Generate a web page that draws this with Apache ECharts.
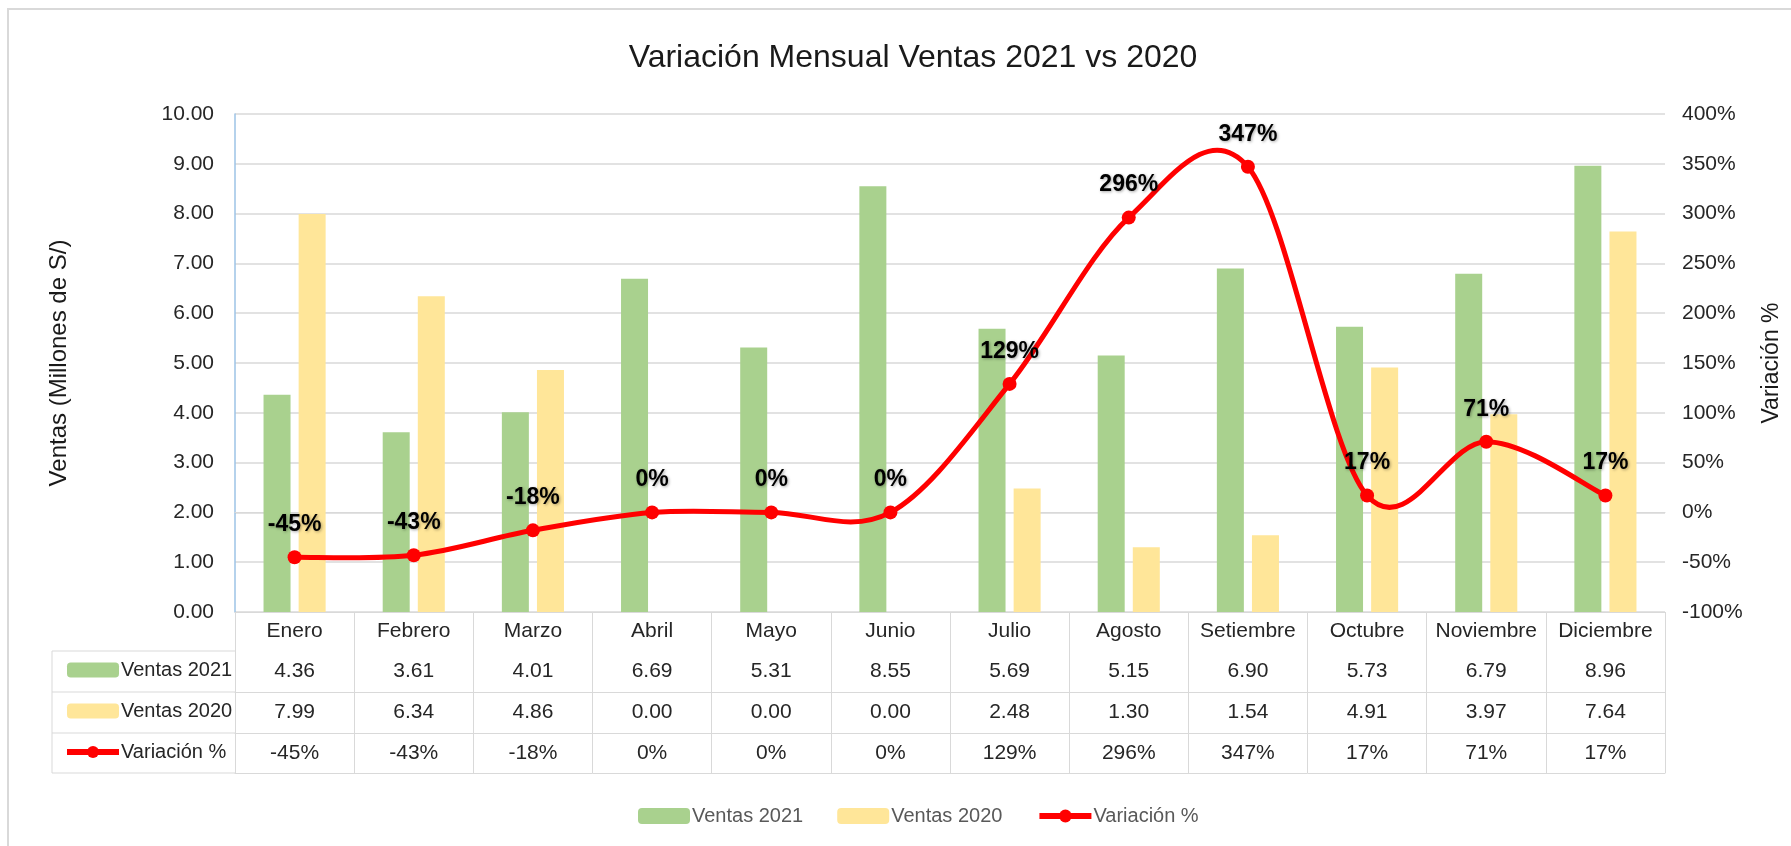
<!DOCTYPE html>
<html>
<head>
<meta charset="utf-8">
<script src="https://cdn.jsdelivr.net/npm/echarts@6/dist/echarts.min.js"></script>
<style>
  html, body { margin: 0; padding: 0; background: #fff; }
  #chart { width: 1791px; height: 846px; }
</style>
</head>
<body>
<div id="chart"></div>
<script>
// ---- Data ----
const categories = ['Enero','Febrero','Marzo','Abril','Mayo','Junio','Julio','Agosto','Setiembre','Octubre','Noviembre','Diciembre'];
const ventas2021 = [4.36,3.61,4.01,6.69,5.31,8.55,5.69,5.15,6.90,5.73,6.79,8.96];
const ventas2020 = [7.99,6.34,4.86,0.00,0.00,0.00,2.48,1.30,1.54,4.91,3.97,7.64];
const variacion = [-45,-43,-18,0,0,0,129,296,347,17,71,17];
const seriesNames = ['Ventas 2021','Ventas 2020','Variación %'];
const leftAxis = { min: 0, max: 10, interval: 1 };
const rightAxis = { min: -100, max: 400, interval: 50 };
const titleText = 'Variación Mensual Ventas 2021 vs 2020';
const leftAxisName = 'Ventas (Millones de S/)';
const rightAxisName = 'Variación %';

// ---- Layout ----
const W = 1791, H = 846;
const G = { left: 235, right: 120, top: 114, bottom: 234 };
const ROWS = [39, 41, 41, 40];          // category row, 2021, 2020, variación
const TABLE_LEFT = 52;
const SANS = "'Liberation Sans', Arial, sans-serif";
const GRID_COLOR = '#D9D9D9';
const TXT = '#262626';
const C21 = '#A9D18E', C20 = '#FFE699', CVAR = '#FF0000';
const FS = 21;

const axisBottom = H - G.bottom;
const tableH = ROWS.reduce((a, b) => a + b, 0);

const rowEdges = [];
{ let acc = 0; for (let i = 0; i < ROWS.length; i++) { acc += ROWS[i]; rowEdges.push(acc); } }

const extraXAxes = rowEdges.map(off => ({
  type: 'category', data: categories, position: 'bottom', offset: off, gridIndex: 0,
  axisLine: { show: true, lineStyle: { color: GRID_COLOR, width: 1 } },
  axisTick: { show: false }, axisLabel: { show: false }, splitLine: { show: false }
}));

const graphics = [
  { type: 'rect', silent: true, z: -10,
    shape: { x: 8, y: 9, width: W + 20, height: H + 20 },
    style: { fill: 'none', stroke: '#D9D9D9', lineWidth: 2 } },
  { type: 'line', silent: true,
    shape: { x1: TABLE_LEFT, y1: axisBottom + ROWS[0], x2: TABLE_LEFT, y2: axisBottom + tableH },
    style: { stroke: GRID_COLOR, lineWidth: 1 } }
];
rowEdges.forEach(off => {
  graphics.push({ type: 'line', silent: true,
    shape: { x1: TABLE_LEFT, y1: axisBottom + off, x2: G.left, y2: axisBottom + off },
    style: { stroke: GRID_COLOR, lineWidth: 1 } });
});

// Excel-like smooth curve (Catmull-Rom -> Bezier) through the variación points
function renderCurve(params, api) {
  const n = variacion.length;
  const i = params.dataIndex;
  if (i >= n - 1) return null;
  const clamp = k => Math.max(0, Math.min(n - 1, k));
  const pt = k => { const c = clamp(k); return api.coord([c, variacion[c]]); };
  const p0 = pt(i - 1), p1 = pt(i), p2 = pt(i + 1), p3 = pt(i + 2);
  return {
    type: 'bezierCurve',
    shape: {
      x1: p1[0], y1: p1[1], x2: p2[0], y2: p2[1],
      cpx1: p1[0] + (p2[0] - p0[0]) / 6, cpy1: p1[1] + (p2[1] - p0[1]) / 6,
      cpx2: p2[0] - (p3[0] - p1[0]) / 6, cpy2: p2[1] - (p3[1] - p1[1]) / 6
    },
    style: { stroke: CVAR, lineWidth: 5, fill: null, lineCap: 'round' },
    silent: true
  };
}

const chart = echarts.init(document.getElementById('chart'), null, { renderer: 'canvas' });

const legendLine = { color: CVAR, width: 6, opacity: 1 };

const option = {
  backgroundColor: '#fff',
  animation: false,
  title: {
    text: titleText, left: 908, textAlign: 'center', top: 37,
    textStyle: { fontFamily: SANS, fontSize: 32, fontWeight: 'normal', color: '#1a1a1a' }
  },
  legend: [
    {
      data: seriesNames, orient: 'horizontal', left: 633, top: 801,
      itemWidth: 52, itemHeight: 16, itemGap: 34,
      lineStyle: legendLine,
      textStyle: { fontFamily: SANS, fontSize: 20, color: '#595959', padding: [0, 0, 0, -3] }
    },
    {
      data: seriesNames, orient: 'vertical', left: 59, top: axisBottom + ROWS[0] + 2,
      itemWidth: 52, itemHeight: 15, itemGap: 17,
      lineStyle: legendLine,
      textStyle: { fontFamily: SANS, fontSize: 20, lineHeight: 24, color: TXT, padding: [0, 0, 0, -3] }
    }
  ],
  grid: { left: G.left, right: G.right, top: G.top, bottom: G.bottom, containLabel: false },
  xAxis: [
    {
      type: 'category', data: categories, position: 'bottom', boundaryGap: true,
      axisLine: { show: true, lineStyle: { color: GRID_COLOR, width: 1 } },
      axisTick: { show: true, length: tableH, lineStyle: { color: GRID_COLOR, width: 1 } },
      axisLabel: {
        interval: 0, margin: 0,
        formatter: function (value, idx) {
          return '{c|' + value + '}\n{a|' + ventas2021[idx].toFixed(2) + '}\n{b|' +
                 ventas2020[idx].toFixed(2) + '}\n{d|' + variacion[idx] + '%}';
        },
        rich: {
          c: { fontFamily: SANS, fontSize: FS, color: TXT, lineHeight: ROWS[0], align: 'center' },
          a: { fontFamily: SANS, fontSize: FS, color: TXT, lineHeight: ROWS[1], align: 'center' },
          b: { fontFamily: SANS, fontSize: FS, color: TXT, lineHeight: ROWS[2], align: 'center' },
          d: { fontFamily: SANS, fontSize: FS, color: TXT, lineHeight: ROWS[3], align: 'center' }
        }
      },
      splitLine: { show: false }
    }
  ].concat(extraXAxes),
  yAxis: [
    {
      type: 'value', min: leftAxis.min, max: leftAxis.max, interval: leftAxis.interval,
      name: leftAxisName, nameLocation: 'middle', nameGap: 164, nameRotate: 90,
      nameTextStyle: { fontFamily: SANS, fontSize: 24, color: '#1a1a1a' },
      axisLine: { show: true, lineStyle: { color: '#9DC3E6', width: 1.5 } },
      axisTick: { show: false },
      axisLabel: { margin: 21, formatter: v => v.toFixed(2),
        fontFamily: SANS, fontSize: FS, color: TXT },
      splitLine: { show: true, lineStyle: { color: GRID_COLOR, width: 1.5 } }
    },
    {
      type: 'value', min: rightAxis.min, max: rightAxis.max, interval: rightAxis.interval,
      position: 'right',
      name: rightAxisName, nameLocation: 'middle', nameGap: 95, nameRotate: 90,
      nameTextStyle: { fontFamily: SANS, fontSize: 23, color: '#1a1a1a' },
      axisLine: { show: false }, axisTick: { show: false },
      axisLabel: { margin: 17, formatter: v => v + '%',
        fontFamily: SANS, fontSize: FS, color: TXT },
      splitLine: { show: false }
    }
  ],
  series: [
    {
      name: seriesNames[0], type: 'bar', data: ventas2021, yAxisIndex: 0,
      barWidth: 27, barGap: '30%', itemStyle: { color: C21 }
    },
    {
      name: seriesNames[1], type: 'bar', data: ventas2020, yAxisIndex: 0,
      barWidth: 27, barGap: '30%', itemStyle: { color: C20 }
    },
    {
      name: 'curve', type: 'custom', xAxisIndex: 0, yAxisIndex: 1, z: 4,
      data: variacion.map((v, i) => [i, v]),
      encode: { x: 0, y: 1 },
      renderItem: renderCurve,
      silent: true, tooltip: { show: false }
    },
    {
      name: seriesNames[2], type: 'line', data: variacion, yAxisIndex: 1,
      symbol: 'circle', symbolSize: 14, z: 5,
      lineStyle: { color: CVAR, width: 5, opacity: 0 }, itemStyle: { color: CVAR },
      label: {
        show: true, position: 'top', distance: 14,
        formatter: p => p.value + '%',
        fontFamily: SANS, fontSize: 23, fontWeight: 'bold', color: '#000',
        textShadowColor: 'rgba(0,0,0,0.35)', textShadowBlur: 3,
        textShadowOffsetX: 1, textShadowOffsetY: 1
      }
    }
  ],
  graphic: graphics
};

chart.setOption(option);
</script>
</body>
</html>
